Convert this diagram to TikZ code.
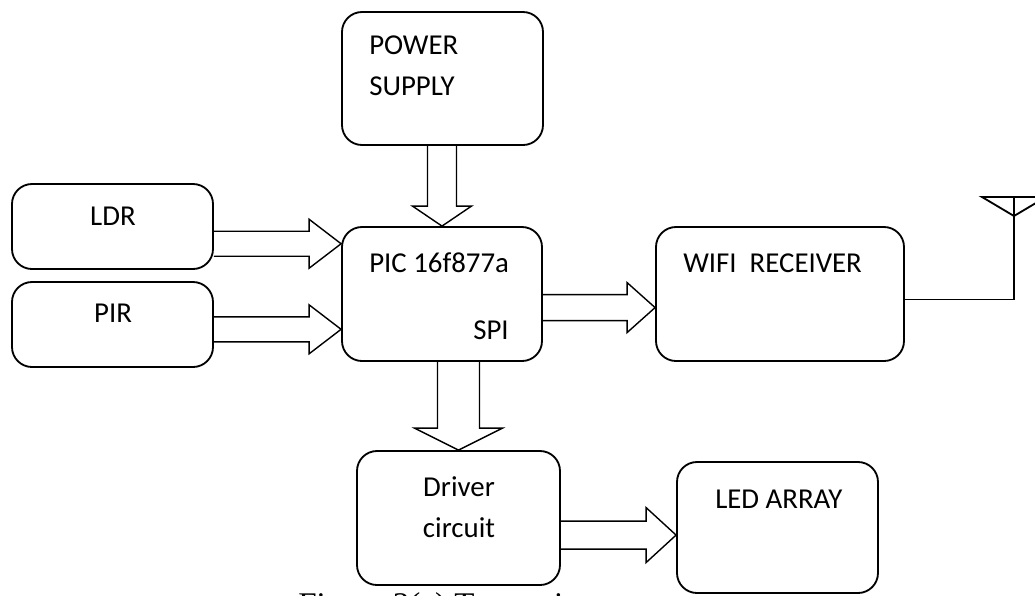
\documentclass[tikz,border=0pt]{standalone}
\usepackage{fontspec}
\setmainfont{Carlito}
\newfontfamily\capfont{Liberation Serif}
\usetikzlibrary{calc,fit}

\def\pxl{0.025cm}
\tikzset{blk/.style={draw,line width=1.3pt,rounded corners=0.5cm,inner sep=0pt},
  barrow/.style={line width=1pt,line join=miter},
  lbl/.style={font=\fontsize{20.5pt}{29pt}\selectfont,inner sep=0pt}}

% fat arrow to the right: start, tip, shaft half width, head half width, head length (px)
\newcommand\rarrow[5]{%
  \draw[barrow] let \p1=(#1), \p2=(#2) in
    (\x1,\y2+#3*\pxl) -- (\x2-#5*\pxl,\y2+#3*\pxl) -- (\x2-#5*\pxl,\y2+#4*\pxl)
    -- (\x2,\y2) -- (\x2-#5*\pxl,\y2-#4*\pxl) -- (\x2-#5*\pxl,\y2-#3*\pxl)
    -- (\x1,\y2-#3*\pxl);}
% fat arrow downwards
\newcommand\darrow[5]{%
  \draw[barrow] let \p1=(#1), \p2=(#2) in
    (\x2-#3*\pxl,\y1) -- (\x2-#3*\pxl,\y2+#5*\pxl) -- (\x2-#4*\pxl,\y2+#5*\pxl)
    -- (\x2,\y2) -- (\x2+#4*\pxl,\y2+#5*\pxl) -- (\x2+#3*\pxl,\y2+#5*\pxl)
    -- (\x2+#3*\pxl,\y1);}

\begin{document}
\begin{tikzpicture}[x=0.025cm,y=-0.025cm]
 \useasboundingbox (0,0) rectangle (1035,595);
 \clip (0,0) rectangle (1035,595);
 % blocks
 \foreach \n/\xa/\ya/\xb/\yb in {pwr/342/12/543/145,ldr/12/184/213/269,pir/12/282/213/367,
   pic/342/227/542/361,wifi/656/227/904/361,drv/357/451/560/585,led/677/462/878/593}{%
   \node[blk,fit={(\xa,\ya) (\xb,\yb)}] (\n) {};
 }
 % labels (base of a two-line label is its last line)
 \node[lbl,anchor=base west,align=left] (pwrtxt) at (369,95) {POWER\\SUPPLY};
 \node[lbl,anchor=base] (ldrtxt) at (113,225) {LDR};
 \node[lbl,anchor=base] (pirtxt) at (113,322) {PIR};
 \node[lbl,anchor=base west] (pictxt) at (369,272) {PIC 16f877a};
 \node[lbl,anchor=base east] (spitxt) at (509,339) {SPI};
 \node[lbl,anchor=base west] (wifitxt) at (683,272) {WIFI\ \ RECEIVER};
 \node[lbl,anchor=base,align=center] (drvtxt) at (459,537) {Driver\\circuit};
 \node[lbl,anchor=base west] (ledtxt) at (715,508) {LED ARRAY};

 % arrows
 \darrow{pwr.south}{pic.north}{14.5}{29.5}{20}
 \foreach \a/\f in {ldr/0.13,pir/0.76}{%
   \rarrow{\a.east}{$(pic.north west)!\f!(pic.south west)$}{12.5}{24.5}{32}
 }
 \rarrow{pic.east}{$(wifi.north west)!0.6!(wifi.south west)$}{13}{25}{28}
 \darrow{pic.south}{drv.north}{21}{44}{22}
 \rarrow{drv.east}{$(led.north west)!0.557!(led.south west)$}{14}{27.5}{30}

 % antenna
 \coordinate (ant) at (1014,216);
 \coordinate (anttop) at (1014,197);
 \draw[line width=1.3pt] ($(wifi.north east)!0.54!(wifi.south east)$) -| (anttop);
 \draw[line width=1.3pt] (ant) -- (982,197) -- (1046,197) -- cycle;

 \node[font=\capfont\fontsize{23.5pt}{28pt}\selectfont,anchor=base west,inner sep=0pt] (cap)
   at (298,615) {Figure 3(a) Transmitter};
\end{tikzpicture}
\end{document}
